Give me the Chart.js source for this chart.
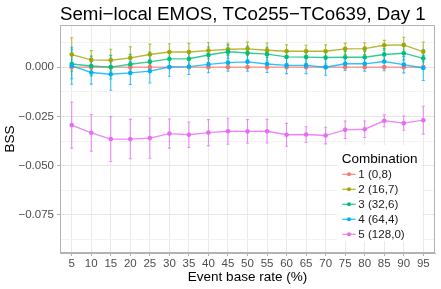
<!DOCTYPE html>
<html>
<head>
<meta charset="utf-8">
<script src="https://cdn.jsdelivr.net/npm/chart.js@4"></script>
<style>
    html, body { margin: 0; padding: 0; background: #ffffff; }
    #wrap { width: 441px; height: 289px; }
</style>
</head>
<body>
<div id="wrap"><canvas id="bssChart"></canvas></div>
<script>
// Event base rates (%)
const rates = [5, 10, 15, 20, 25, 30, 35, 40, 45, 50, 55, 60, 65, 70, 75, 80, 85, 90, 95];

const seriesNames = ['1 (0,8)', '2 (16,7)', '3 (32,6)', '4 (64,4)', '5 (128,0)'];
const seriesColors = ['#F8766D', '#A3A500', '#00BF7D', '#00B0F6', '#E76BF3'];

// BSS means
const bss1 = [0, 0, 0, 0, 0, 0, 0, 0, 0, 0, 0, 0, 0, 0, 0, 0, 0, 0, 0];
const bss2 = [0.0064, 0.0037, 0.0035, 0.0047, 0.0064, 0.0077, 0.0077, 0.0084, 0.0091, 0.0093, 0.0086, 0.0081, 0.0081, 0.0081, 0.0093, 0.0094, 0.0111, 0.0113, 0.0078];
const bss3 = [0.0016, 0.0006, 0.0000, 0.0015, 0.0027, 0.0042, 0.0043, 0.0062, 0.0078, 0.0072, 0.0066, 0.0052, 0.0051, 0.0049, 0.0050, 0.0050, 0.0064, 0.0071, 0.0045];
const bss4 = [0.0007, -0.0027, -0.0036, -0.0029, -0.0020, 0.0001, 0.0003, 0.0014, 0.0023, 0.0027, 0.0016, 0.0009, 0.0009, 0.0000, 0.0017, 0.0017, 0.0029, 0.0013, -0.0004];
const bss5 = [-0.0294, -0.0333, -0.0365, -0.0365, -0.0360, -0.0337, -0.0343, -0.0332, -0.0325, -0.0326, -0.0325, -0.0343, -0.0342, -0.0347, -0.0318, -0.0315, -0.0272, -0.0284, -0.0269];

// Error bar half widths
const err1 = [0, 0, 0, 0, 0, 0, 0, 0, 0, 0, 0, 0, 0, 0, 0, 0, 0, 0, 0];
const err2 = [0.0085, 0.0047, 0.0056, 0.0056, 0.0053, 0.0042, 0.0044, 0.0041, 0.0032, 0.0034, 0.0037, 0.0032, 0.0030, 0.0032, 0.0029, 0.0030, 0.0025, 0.0039, 0.0050];
const err3 = [0.0075, 0.0050, 0.0060, 0.0050, 0.0050, 0.0040, 0.0040, 0.0040, 0.0035, 0.0035, 0.0035, 0.0033, 0.0033, 0.0033, 0.0030, 0.0030, 0.0030, 0.0035, 0.0045];
const err4 = [0.0094, 0.0059, 0.0081, 0.0059, 0.0060, 0.0047, 0.0040, 0.0042, 0.0043, 0.0047, 0.0043, 0.0042, 0.0042, 0.0041, 0.0034, 0.0037, 0.0047, 0.0042, 0.0064];
const err5 = [0.0117, 0.0093, 0.0114, 0.0100, 0.0102, 0.0074, 0.0065, 0.0066, 0.0066, 0.0060, 0.0060, 0.0058, 0.0040, 0.0042, 0.0044, 0.0042, 0.0030, 0.0036, 0.0071];

const yTickValues = [0, -0.025, -0.05, -0.075];
const yTickLabels = ['0.000', '\u22120.025', '\u22120.050', '\u22120.075'];

const chartTitle = 'Semi\u2212local EMOS, TCo255\u2212TCo639, Day 1';
const legendTitle = 'Combination';

const means = [bss1, bss2, bss3, bss4, bss5];
const errors = [err1, err2, err3, err4, err5];

function withAlpha(hex, a) {
    const n = parseInt(hex.slice(1), 16);
    return 'rgba(' + (n >> 16) + ',' + ((n >> 8) & 255) + ',' + (n & 255) + ',' + a + ')';
}

const FONT = '"Liberation Sans", Arial, sans-serif';

// error bars, title and the inside legend
const decorPlugin = {
    id: 'decor',
    beforeDatasetsDraw(chart) {
        const ctx = chart.ctx;
        const x = chart.scales.x, y = chart.scales.y;
        ctx.save();
        ctx.lineWidth = 1.1;
        means.forEach((m, s) => {
            ctx.strokeStyle = withAlpha(seriesColors[s], 0.75);
            m.forEach((v, i) => {
                const e = errors[s][i];
                if (!e) return;
                const px = x.getPixelForValue(rates[i]);
                const top = y.getPixelForValue(v + e);
                const bot = y.getPixelForValue(v - e);
                ctx.beginPath();
                ctx.moveTo(px, top); ctx.lineTo(px, bot);
                ctx.moveTo(px - 1.5, top); ctx.lineTo(px + 1.5, top);
                ctx.moveTo(px - 1.5, bot); ctx.lineTo(px + 1.5, bot);
                ctx.stroke();
            });
        });
        ctx.restore();
    },
    afterDraw(chart) {
        const ctx = chart.ctx;
        const area = chart.chartArea;
        ctx.save();
        // title
        ctx.fillStyle = '#000000';
        ctx.font = '18.7px ' + FONT;
        ctx.textAlign = 'left';
        ctx.textBaseline = 'alphabetic';
        ctx.fillText(chartTitle, area.left, 19.5);

        // legend box
        ctx.fillStyle = '#ffffff';
        ctx.fillRect(337, 145, 85, 96);
        ctx.fillStyle = '#000000';
        ctx.font = '13.5px ' + FONT;
        ctx.textBaseline = 'middle';
        ctx.fillText(legendTitle, 341.7, 159.3);
        ctx.font = '11.6px ' + FONT;
        seriesNames.forEach((name, i) => {
            const cy = 174.3 + i * 15;
            ctx.strokeStyle = withAlpha(seriesColors[i], 0.8);
            ctx.lineWidth = 1.3;
            ctx.beginPath();
            ctx.moveTo(342.3, cy); ctx.lineTo(355.7, cy);
            ctx.stroke();
            ctx.fillStyle = seriesColors[i];
            ctx.beginPath();
            ctx.arc(349, cy, 2, 0, Math.PI * 2);
            ctx.fill();
            ctx.fillStyle = '#1A1A1A';
            ctx.fillText(name, 358.3, cy + 0.5);
        });
        ctx.restore();
    }
};

function buildDatasets() {
    return means.map((m, s) => ({
        label: seriesNames[s],
        data: rates.map((r, i) => ({ x: r, y: m[i] })),
        borderColor: withAlpha(seriesColors[s], 0.8),
        backgroundColor: seriesColors[s],
        pointBackgroundColor: seriesColors[s],
        pointBorderWidth: 0,
        pointRadius: 2.3,
        borderWidth: 1.4,
        tension: 0,
        order: 5 - s
    }));
}

function initializeChart() {
    const ctx = document.getElementById('bssChart');
    const minor = [0.0125, -0.0125, -0.0375, -0.0625, -0.0875];
    new Chart(ctx, {
        type: 'line',
        data: { datasets: buildDatasets() },
        plugins: [decorPlugin],
        options: {
            responsive: true,
            maintainAspectRatio: false,
            animation: false,
            layout: { padding: { top: 25, right: 6, left: 0, bottom: 0 } },
            plugins: {
                legend: { display: false },
                tooltip: { enabled: false },
                title: { display: false }
            },
            scales: {
                x: {
                    type: 'linear',
                    min: 2,
                    max: 98,
                    afterBuildTicks: scale => {
                        scale.ticks = rates.map(v => ({ value: v }));
                    },
                    afterFit: scale => { scale.height = 36; },
                    ticks: {
                        color: '#4D4D4D',
                        font: { family: FONT, size: 11.5 },
                        padding: 1,
                        maxRotation: 0,
                        autoSkip: false,
                        callback: v => String(v)
                    },
                    grid: {
                        color: '#EBEBEB',
                        lineWidth: 1,
                        tickLength: 3,
                        tickColor: '#B3B3B3'
                    },
                    border: { display: true, color: '#B3B3B3', width: 1 },
                    title: {
                        display: true,
                        text: 'Event base rate (%)',
                        color: '#000000',
                        font: { family: FONT, size: 13.5 },
                        padding: { top: 0, bottom: 4 }
                    }
                },
                y: {
                    min: -0.0943,
                    max: 0.0214,
                    afterBuildTicks: scale => {
                        const all = yTickValues.concat(minor).sort((a, b) => b - a);
                        scale.ticks = all.map(v => ({ value: v }));
                    },
                    afterFit: scale => { scale.width = 60; },
                    ticks: {
                        color: '#4D4D4D',
                        font: { family: FONT, size: 11.5 },
                        padding: 3,
                        autoSkip: false,
                        callback: v => {
                            const k = yTickValues.findIndex(t => Math.abs(t - v) < 1e-9);
                            return k >= 0 ? yTickLabels[k] : '';
                        }
                    },
                    grid: {
                        color: c => {
                            const major = yTickValues.some(t => Math.abs(t - c.tick.value) < 1e-9);
                            return major ? '#E6E6E6' : '#F2F2F2';
                        },
                        lineWidth: 1,
                        tickLength: 3,
                        tickColor: c => {
                            const major = yTickValues.some(t => Math.abs(t - c.tick.value) < 1e-9);
                            return major ? '#B3B3B3' : 'rgba(0,0,0,0)';
                        }
                    },
                    border: { display: true, color: '#B3B3B3', width: 1 },
                    title: {
                        display: true,
                        text: 'BSS',
                        color: '#000000',
                        font: { family: FONT, size: 13.5 },
                        padding: { top: 2, bottom: 0 }
                    }
                }
            }
        }
    });
}

// panel border on top and right
Chart.register({
    id: 'panelBorder',
    afterDatasetsDraw(chart) {
        const a = chart.chartArea;
        const c = chart.ctx;
        c.save();
        c.strokeStyle = '#B3B3B3';
        c.lineWidth = 1;
        c.strokeRect(a.left + 0.5, a.top + 0.5, a.right - a.left - 1, a.bottom - a.top - 1);
        c.restore();
    }
});

document.addEventListener('DOMContentLoaded', initializeChart);
</script>
</body>
</html>
